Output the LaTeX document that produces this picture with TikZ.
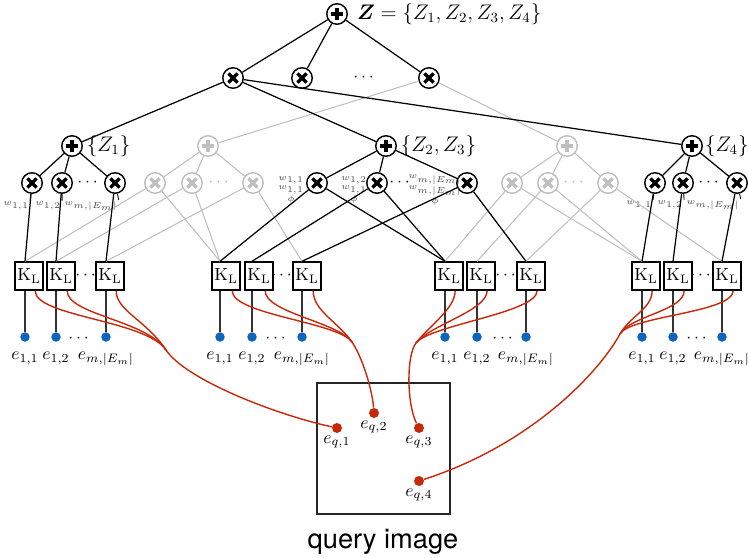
\documentclass[tikz,border=0pt]{standalone}
\usepackage{amsmath}
\usepackage{bm}
\usepackage{fontspec}
\newfontfamily\qfont{TeX Gyre Heros}
\definecolor{leafblue}{RGB}{16,100,190}
\definecolor{qred}{RGB}{200,40,10}

\begin{document}
\begin{tikzpicture}[x=0.02cm,y=-0.02cm,
  sumnode/.style={circle,draw=#1,fill=white,line width=0.8pt,minimum size=0.41cm,inner sep=0pt,
    path picture={\draw[#1,line width=1.9pt]
      ([xshift=-3.6pt]path picture bounding box.center) -- ([xshift=3.6pt]path picture bounding box.center)
      ([yshift=-3.6pt]path picture bounding box.center) -- ([yshift=3.6pt]path picture bounding box.center);}},
  sumnode/.default=black,
  prodnode/.style={circle,draw=#1,fill=white,line width=0.8pt,minimum size=0.41cm,inner sep=0pt,
    path picture={\draw[#1,line width=1.9pt]
      ([shift={(-2.6pt,-2.6pt)}]path picture bounding box.center) -- ([shift={(2.6pt,2.6pt)}]path picture bounding box.center)
      ([shift={(-2.6pt,2.6pt)}]path picture bounding box.center) -- ([shift={(2.6pt,-2.6pt)}]path picture bounding box.center);}},
  prodnode/.default=black,
  klbox/.style={draw,line width=0.8pt,fill=white,minimum size=0.56cm,inner sep=0pt},
  leaf/.style={circle,fill=leafblue,minimum size=0.19cm,inner sep=0pt},
  qpt/.style={circle,fill=qred,minimum size=0.2cm,inner sep=0pt},
  link/.style={line width=0.7pt},
  faded/.style={black!25,line width=0.6pt},
  stem/.style={black!80,line width=0.8pt},
  qlink/.style={qred,line width=0.8pt},
  wlab/.style={font=\fontsize{3.9}{5.4}\selectfont,text=black!70,inner sep=0.5pt,align=center},
  elab/.style={anchor=base,inner sep=0pt},
  setlab/.style={anchor=west,font=\large,inner sep=1pt},
  ellip/.style={inner sep=0pt}]
\useasboundingbox (0,0) rectangle (748,558);

% root and first product layer
\node[sumnode] (top) at (337,14) {};
\node[setlab] (toplab) at ([xshift=4pt]top.east) {$\bm{Z} = \{Z_1, Z_2, Z_3, Z_4\}$};
\node[prodnode] (m1) at (233,78) {};
\node[prodnode] (m2) at (302,78) {};
\node[ellip] (mdots) at (365,78) {$\cdots$};
\node[prodnode] (m3) at (429,78) {};

% sum nodes per region set
\node[sumnode] (s1) at (72,146) {};
\node[setlab] at ([xshift=1pt]s1.east) {$\{Z_1\}$};
\node[sumnode=black!25] (s2) at (208,146) {};
\node[sumnode] (s3) at (386,146) {};
\node[setlab] at ([xshift=1pt]s3.east) {$\{Z_2, Z_3\}$};
\node[sumnode=black!25] (s4) at (567,146) {};
\node[sumnode] (s5) at (692,146) {};
\node[setlab] at (s5.east) {$\{Z_4\}$};

% product layer
\node[prodnode] (x11) at (32,183) {};
\node[prodnode] (x12) at (62,183) {};
\node[ellip] at (89,183) {$\cdots$};
\node[prodnode] (x13) at (115,183) {};
\node[prodnode=black!25] (x21) at (155,183) {};
\node[prodnode=black!25] (x22) at (192,183) {};
\node[ellip,text=black!30] at (220,183) {$\cdots$};
\node[prodnode=black!25] (x23) at (253,183) {};
\node[prodnode] (x31) at (317,183) {};
\node[prodnode] (x32) at (377,183) {};
\node[ellip] at (401,183) {$\cdots$};
\node[prodnode] (x33) at (467,183) {};
\node[prodnode=black!25] (x41) at (512,183) {};
\node[prodnode=black!25] (x42) at (548,183) {};
\node[ellip,text=black!30] at (575,183) {$\cdots$};
\node[prodnode=black!25] (x43) at (608,183) {};
\node[prodnode] (x51) at (655,183) {};
\node[prodnode] (x52) at (683,183) {};
\node[ellip] at (710,183) {$\cdots$};
\node[prodnode] (x53) at (737,183) {};

% weights
\node[wlab] (w11) at (16,206) {$w_{1,1}$};
\node[wlab] (w12) at (48,206) {$w_{1,2}$};
\node[wlab] (w13) at (91,206) {$w_{m,|E_m|}$};
\node[wlab] (w31) at (291,190) {$w_{1,1}$\\$w_{1,1}$\\$\phi$};
\node[wlab] (w32) at (354,190) {$w_{1,2}$\\$w_{1,1}$\\$\phi$};
\node[wlab] (w33) at (435,190) {$w_{m,|E_m|}$\\$w_{m,|E_m|}$\\$\phi$};
\node[wlab] (w51) at (639,205) {$w_{1,1}$};
\node[wlab] (w52) at (670,205) {$w_{1,2}$};
\node[wlab] (w53) at (713,205) {$w_{m,|E_m|}$};

% kernel boxes
\node[klbox] (k11) at (29,276) {$\mathrm{K}_\mathrm{L}$};
\node[klbox] (k12) at (61,276) {$\mathrm{K}_\mathrm{L}$};
\node[ellip] at (87,276) {$\cdots$};
\node[klbox] (k13) at (110,276) {$\mathrm{K}_\mathrm{L}$};
\node[klbox] (k21) at (226,276) {$\mathrm{K}_\mathrm{L}$};
\node[klbox] (k22) at (259,276) {$\mathrm{K}_\mathrm{L}$};
\node[ellip] at (283,276) {$\cdots$};
\node[klbox] (k23) at (307,276) {$\mathrm{K}_\mathrm{L}$};
\node[klbox] (k31) at (449,276) {$\mathrm{K}_\mathrm{L}$};
\node[klbox] (k32) at (481,276) {$\mathrm{K}_\mathrm{L}$};
\node[ellip] at (507,276) {$\cdots$};
\node[klbox] (k33) at (531,276) {$\mathrm{K}_\mathrm{L}$};
\node[klbox] (k41) at (646,276) {$\mathrm{K}_\mathrm{L}$};
\node[klbox] (k42) at (678,276) {$\mathrm{K}_\mathrm{L}$};
\node[ellip] at (702,276) {$\cdots$};
\node[klbox] (k43) at (727,276) {$\mathrm{K}_\mathrm{L}$};

% region descriptors
\node[leaf] (e11) at (25,337) {};
\node[leaf] (e12) at (56,337) {};
\node[ellip] at (80,339) {$\cdots$};
\node[leaf] (e13) at (106,337) {};
\node[leaf] (e21) at (220,337) {};
\node[leaf] (e22) at (252,337) {};
\node[ellip] at (277,339) {$\cdots$};
\node[leaf] (e23) at (302,337) {};
\node[leaf] (e31) at (445,337) {};
\node[leaf] (e32) at (477,337) {};
\node[ellip] at (504,339) {$\cdots$};
\node[leaf] (e33) at (526,337) {};
\node[leaf] (e41) at (642,337) {};
\node[leaf] (e42) at (673,337) {};
\node[ellip] at (698,339) {$\cdots$};
\node[leaf] (e43) at (722,337) {};
\node[elab] at ([yshift=-10pt]e11.south) {$e_{1,1}$};
\node[elab] at ([yshift=-10pt]e12.south) {$e_{1,2}$};
\node[elab] at ([yshift=-10pt]e13.south) {$e_{m,|E_m|}$};
\node[elab] at ([yshift=-10pt]e21.south) {$e_{1,1}$};
\node[elab] at ([yshift=-10pt]e22.south) {$e_{1,2}$};
\node[elab] at ([yshift=-10pt]e23.south) {$e_{m,|E_m|}$};
\node[elab] at ([yshift=-10pt]e31.south) {$e_{1,1}$};
\node[elab] at ([yshift=-10pt]e32.south) {$e_{1,2}$};
\node[elab] at ([yshift=-10pt]e33.south) {$e_{m,|E_m|}$};
\node[elab] at ([yshift=-10pt]e41.south) {$e_{1,1}$};
\node[elab] at ([yshift=-10pt]e42.south) {$e_{1,2}$};
\node[elab] at ([yshift=-10pt]e43.south) {$e_{m,|E_m|}$};

% query image
\draw[line width=0.8pt,black!85] (317,383) rectangle (450,514);
\node[qpt] (q1) at (337,428) {};
\node[qpt] (q2) at (374,413) {};
\node[qpt] (q3) at (419,428) {};
\node[qpt] (q4) at (419,481) {};
\node[elab] at ([yshift=-5.5pt]q1.south) {$e_{q,1}$};
\node[elab] at ([yshift=-5.5pt]q2.south) {$e_{q,2}$};
\node[elab] at ([yshift=-5.5pt]q3.south) {$e_{q,3}$};
\node[elab] at ([yshift=-5.5pt]q4.south) {$e_{q,4}$};
\node (qname) at (383,542) {\qfont\fontsize{15.5}{18}\selectfont query image};

% faded edges
\draw[faded] (m3) -- (s2);
\draw[faded] (m3) -- (s4);
\draw[faded] (s2) -- (x21);
\draw[faded] (s2) -- (x22);
\draw[faded] (s2) -- (x23);
\draw[faded] (s4) -- (x41);
\draw[faded] (s4) -- (x42);
\draw[faded] (s4) -- (x43);
\draw[faded] (x21) -- (e11 |- k11.north);
\draw[faded] (x22) -- (e12 |- k12.north);
\draw[faded] (x23) -- (e13 |- k13.north);
\draw[faded] (x21) -- (e21 |- k21.north);
\draw[faded] (x22) -- (e21 |- k21.north);
\draw[faded] (x23) -- (e23 |- k23.north);
\draw[faded] (x41) -- (e31 |- k31.north);
\draw[faded] (x42) -- (e32 |- k32.north);
\draw[faded] (x43) -- (e33 |- k33.north);
\draw[faded] (x41) -- (e41 |- k41.north);
\draw[faded] (x42) -- (e41 |- k41.north);
\draw[faded] (x43) -- (e43 |- k43.north);

% active edges
\draw[link] (top) -- (m1);
\draw[link] (top) -- (m2);
\draw[link] (top) -- (m3);
\draw[link] (m1) -- (s1);
\draw[link] (m1) -- (s3);
\draw[link] (m1) -- (s5);
\draw[link] (s1) -- (x11);
\draw[link] (s1) -- (x12);
\draw[link] (s1) -- (x13);
\draw[link] (s3) -- (x31);
\draw[link] (s3) -- (x32);
\draw[link] (s3) -- (x33);
\draw[link] (s5) -- (x51);
\draw[link] (s5) -- (x52);
\draw[link] (s5) -- (x53);
\draw[link] (x11) -- (e11 |- k11.north);
\draw[link] (x12) -- (e12 |- k12.north);
\draw[link] (x13) -- (e13 |- k13.north);
\draw[link] (x31) -- (e21 |- k21.north);
\draw[link] (x32) -- (e22 |- k22.north);
\draw[link] (x33) -- (e23 |- k23.north);
\draw[link] (x31) -- (e31 |- k31.north);
\draw[link] (x32) -- (e31 |- k31.north);
\draw[link] (x33) -- (e33 |- k33.north);
\draw[link] (x51) -- (e41 |- k41.north);
\draw[link] (x52) -- (e42 |- k42.north);
\draw[link] (x53) -- (e43 |- k43.north);
\draw[link,line width=0.5pt] (w11.north east) -- (x11);
\draw[link,line width=0.5pt] (w12.north east) -- (x12);
\draw[link,line width=0.5pt] (w13.north east) -- (x13);
\draw[link,line width=0.5pt] (w51.north east) -- (x51);
\draw[link,line width=0.5pt] (w52.north east) -- (x52);
\draw[link,line width=0.5pt] (w53.north east) -- (x53);

% descriptor stems
\draw[stem] (e11) -- (e11 |- k11.south);
\draw[stem] (e12) -- (e12 |- k12.south);
\draw[stem] (e13) -- (e13 |- k13.south);
\draw[stem] (e21) -- (e21 |- k21.south);
\draw[stem] (e22) -- (e22 |- k22.south);
\draw[stem] (e23) -- (e23 |- k23.south);
\draw[stem] (e31) -- (e31 |- k31.south);
\draw[stem] (e32) -- (e32 |- k32.south);
\draw[stem] (e33) -- (e33 |- k33.south);
\draw[stem] (e41) -- (e41 |- k41.south);
\draw[stem] (e42) -- (e42 |- k42.south);
\draw[stem] (e43) -- (e43 |- k43.south);

% matches to the query descriptors
\coordinate (j1) at (166,350);
\draw[qlink] ([xshift=3.5pt]k11.south) .. controls +(0,26) and (146,320) .. (j1);
\draw[qlink] ([xshift=3.5pt]k12.south) .. controls +(0,24) and (146,320) .. (j1);
\draw[qlink] ([xshift=3.5pt]k13.south) .. controls +(0,20) and (146,320) .. (j1);
\draw[qlink] (j1) .. controls (186,380) and (277,415) .. (q1);
\coordinate (j2) at (352,342);
\draw[qlink] ([xshift=3.5pt]k21.south) .. controls +(0,24) and (338,322) .. (j2);
\draw[qlink] ([xshift=3.5pt]k22.south) .. controls +(0,22) and (338,322) .. (j2);
\draw[qlink] ([xshift=3.5pt]k23.south) .. controls +(0,20) and (338,322) .. (j2);
\draw[qlink] (j2) .. controls (362,357) and (372,388) .. (q2);
\coordinate (j3) at (416,343);
\draw[qlink] ([xshift=3.5pt]k31.south) .. controls +(0,18) and (430,325) .. (j3);
\draw[qlink] ([xshift=3.5pt]k32.south) .. controls +(0,20) and (430,325) .. (j3);
\draw[qlink] ([xshift=3.5pt]k33.south) .. controls +(0,22) and (430,325) .. (j3);
\draw[qlink] (j3) .. controls (406,356) and (407,405) .. (q3);
\coordinate (j4) at (620,334);
\draw[qlink] ([xshift=3.5pt]k41.south) .. controls +(0,18) and (630,316) .. (j4);
\draw[qlink] ([xshift=3.5pt]k42.south) .. controls +(0,20) and (630,316) .. (j4);
\draw[qlink] ([xshift=3.5pt]k43.south) .. controls +(0,22) and (630,316) .. (j4);
\draw[qlink] (j4) .. controls (598,374) and (530,445) .. (q4);
\end{tikzpicture}
\end{document}
